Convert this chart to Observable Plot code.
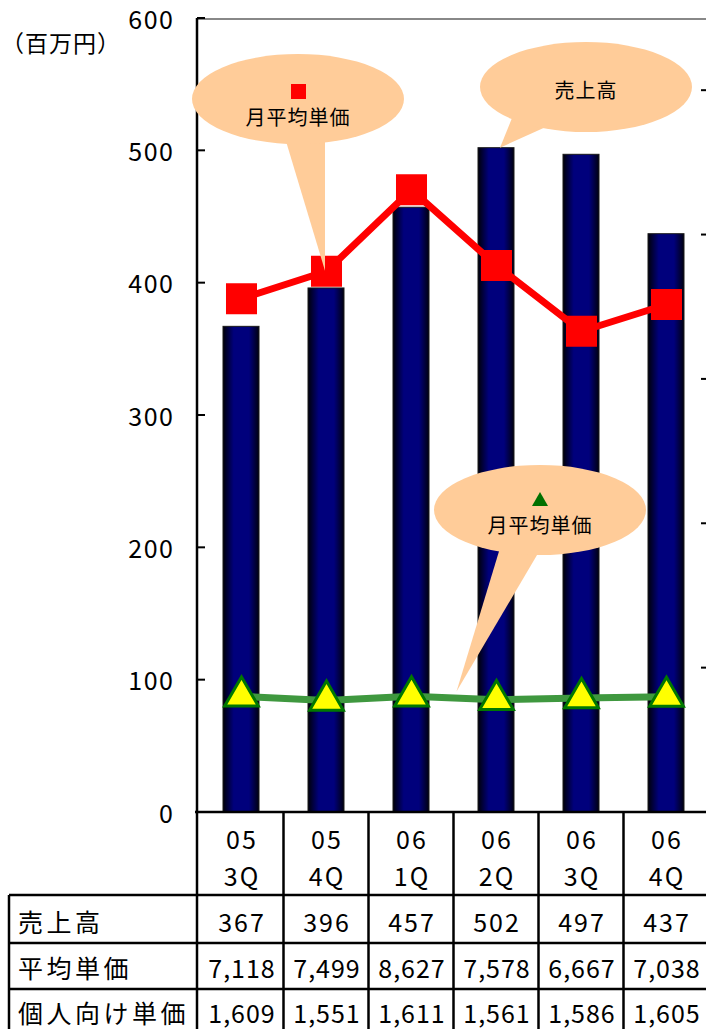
<!DOCTYPE html>
<html><head><meta charset="utf-8">
<script src="https://cdn.jsdelivr.net/npm/d3@7"></script>
<script src="https://cdn.jsdelivr.net/npm/@observablehq/plot@0.6"></script>
<style>
html,body{margin:0;padding:0;background:#fff;overflow:hidden;width:706px;height:1029px}
#wrap{position:relative;width:720px;height:1029px}
#wrap svg{position:absolute;left:0;top:0}
</style></head><body><div id="wrap"></div>
<script>
// ---- data ----
const quarters = ["05\n3Q","05\n4Q","06\n1Q","06\n2Q","06\n3Q","06\n4Q"];
const sales = [367,396,457,502,497,437];            // 売上高 (百万円), left axis
const avgPrice = [7118,7499,8627,7578,6667,7038];   // 平均単価, right axis
const personalPrice = [1609,1551,1611,1561,1586,1605]; // 個人向け単価, right axis
const leftTicks = [0,100,200,300,400,500,600];
const rightTicks = [2000,4000,6000,8000,10000];
const rightDomain = [0,11000];
const rowLabels = ["売上高","平均単価","個人向け単価"];
const unitLabel = "（百万円）";
const calloutTexts = ["月平均単価","売上高","月平均単価"];

// ---- layout ----
const W = 720, H = 1029;
const M = {top:18, right:11, bottom:217, left:197};
const font = "'Noto Sans CJK JP','Noto Sans',sans-serif";
const rows = quarters.map((q,i)=>({q, sales:sales[i], avg:avgPrice[i], per:personalPrice[i]}));
const xOpt = {domain: quarters, paddingInner: 0.58, paddingOuter: 0.29, axis: null};

const wrap = document.getElementById("wrap");

// Plot 1: bars on the left axis
const p1 = Plot.plot({
  width: W, height: H,
  marginTop: M.top, marginRight: M.right, marginBottom: M.bottom, marginLeft: M.left,
  style: {fontFamily: font, background: "#fff", color: "#000", letterSpacing: "1.5px"},
  x: xOpt,
  y: {domain: [0,600], axis: null},
  marks: [
    Plot.barY(rows, {x: "q", y: "sales", fill: "url(#barGrad)", stroke: "#1a1a1a", strokeWidth: 1}),
    Plot.axisY({ticks: leftTicks, tickSize: 0, tickPadding: 23, fontSize: 25, dy: 2, label: null, tickFormat: d => String(d)})
  ]
});
wrap.appendChild(p1);

// Plot 2: lines on the right axis (transparent overlay)
const p2 = Plot.plot({
  width: W, height: H,
  marginTop: M.top, marginRight: M.right, marginBottom: M.bottom, marginLeft: M.left,
  style: {fontFamily: font, background: "transparent", color: "#000"},
  x: xOpt,
  y: {domain: rightDomain, axis: null},
  marks: [
    Plot.line(rows, {x: "q", y: "avg", stroke: "#ff0000", strokeWidth: 7}),
    Plot.dot(rows, {x: "q", y: "avg", symbol: "square", r: 17.5, fill: "#ff0000", stroke: "none"}),
    Plot.line(rows, {x: "q", y: "per", stroke: "#3f983f", strokeWidth: 7}),
    Plot.dot(rows, {x: "q", y: "per", symbol: "triangle", r: 12.5, fill: "#ffff00", stroke: "#007800", strokeWidth: 3})
  ]
});
wrap.appendChild(p2);

const xs = p1.scale("x"), y1 = p1.scale("y"), y2 = p2.scale("y");
const bw = xs.bandwidth, step = xs.step;
const cx = q => xs.apply(q) + bw/2;
const xL = M.left, xR = W - M.right;
const yTop = y1.apply(600), yBase = y1.apply(0);

// ---- plot1 decorations: gradient, top border ----
const s1 = d3.select(p1);
const grad = s1.append("defs").append("linearGradient").attr("id","barGrad")
  .attr("x1",0).attr("x2",1).attr("y1",0).attr("y2",0);
[[0,"#000008"],[0.3,"#00007c"],[0.72,"#00007c"],[1,"#000010"]].forEach(([o,c]) =>
  grad.append("stop").attr("offset",o).attr("stop-color",c));
s1.append("line").attr("x1",xL).attr("x2",xR).attr("y1",yTop+1).attr("y2",yTop+1).attr("stroke","#888").attr("stroke-width",2);

// ---- overlay (p2): axes, table, callouts ----
const s2 = d3.select(p2);
const g = s2.append("g");
g.append("line").attr("x1",xL).attr("x2",xL).attr("y1",yTop).attr("y2",yBase).attr("stroke","#000").attr("stroke-width",2.5);
leftTicks.forEach(t => g.append("line").attr("x1",xL).attr("x2",xL+8).attr("y1",y1.apply(t)).attr("y2",y1.apply(t)).attr("stroke","#000").attr("stroke-width",2));
g.append("line").attr("x1",xR).attr("x2",xR).attr("y1",yTop).attr("y2",yBase).attr("stroke","#000").attr("stroke-width",2.5);
rightTicks.forEach(t => g.append("line").attr("x1",xR-8).attr("x2",xR).attr("y1",y2.apply(t)).attr("y2",y2.apply(t)).attr("stroke","#000").attr("stroke-width",2));

const txt = (x,y,s,size,anchor,ls) => g.append("text").attr("x",x).attr("y",y)
  .attr("text-anchor",anchor).attr("dominant-baseline","central")
  .attr("font-size",size).attr("font-family",font).attr("letter-spacing",ls).attr("fill","#000").text(s);

// unit label
txt(1, 42, unitLabel, 23, "start", "1px");

// ---- table ----
const tLeft = 9, rowY = [yBase, 895, 943, 989];
const tg = g.append("g").attr("stroke","#000").attr("stroke-width",2.5);
tg.append("line").attr("x1",xL-2).attr("x2",W).attr("y1",yBase).attr("y2",yBase);
[1,2,3].forEach(k => tg.append("line").attr("x1",tLeft).attr("x2",W).attr("y1",rowY[k]).attr("y2",rowY[k]));
tg.append("line").attr("x1",tLeft).attr("x2",tLeft).attr("y1",rowY[1]).attr("y2",H);
tg.append("line").attr("x1",xL).attr("x2",xL).attr("y1",yBase).attr("y2",H);
quarters.forEach(q => {
  const xb = cx(q) + step/2;
  tg.append("line").attr("x1",xb).attr("x2",xb).attr("y1",yBase).attr("y2",H);
});
const fmt = d3.format(",");
quarters.forEach((q,i) => {
  const [a,b] = q.split("\n");
  txt(cx(q)+1, 838, a, 25, "middle", "2px");
  txt(cx(q)+1, 875, b, 25, "middle", "2px");
  txt(cx(q)+1, 921, String(sales[i]), 25, "middle", "2px");
  txt(cx(q)+1, 967, fmt(avgPrice[i]), 25, "middle", "1px");
  txt(cx(q)+1, 1012, fmt(personalPrice[i]), 25, "middle", "1px");
});
[921, 967, 1012].forEach((yy,k) => txt(18, yy, rowLabels[k], 25, "start", "3.5px"));

// ---- callouts ----
const peach = "#ffcc99";
function callout(ex, ey, base, tip) {
  const cg = g.append("g").attr("fill", peach);
  cg.append("path").attr("d", `M${base[0][0]},${base[0][1]}L${tip[0]},${tip[1]}L${base[1][0]},${base[1][1]}Z`);
  cg.append("ellipse").attr("cx",ex).attr("cy",ey).attr("rx",106).attr("ry",45);
  return cg;
}
// 1: avg price (red) — points at 05 4Q square
const tip1 = [cx(quarters[1]) - 1, y2.apply(avgPrice[1])];
callout(298, 99, [[285,138],[325,138]], tip1);
g.append("rect").attr("x",291).attr("y",84).attr("width",15).attr("height",15).attr("fill","#ff0000");
txt(298, 116, calloutTexts[0], 20, "middle", "1px");
// 2: sales — points at top of 06 2Q bar
const tip2 = [cx(quarters[3]) + 4, y1.apply(sales[3])];
callout(586, 87, [[512,118],[548,126]], tip2);
txt(586, 89, calloutTexts[1], 20, "middle", "1px");
// 3: green line — points between 06 1Q and 06 2Q
const tip3 = [(cx(quarters[2]) + cx(quarters[3]))/2 + 3, y2.apply((personalPrice[2]+personalPrice[3])/2) - 6];
callout(540, 510, [[500,548],[540,550]], tip3);
g.append("path").attr("d","M540,492L548,506L532,506Z").attr("fill","#007000");
txt(540, 524, calloutTexts[2], 20, "middle", "1px");
</script></body></html>
